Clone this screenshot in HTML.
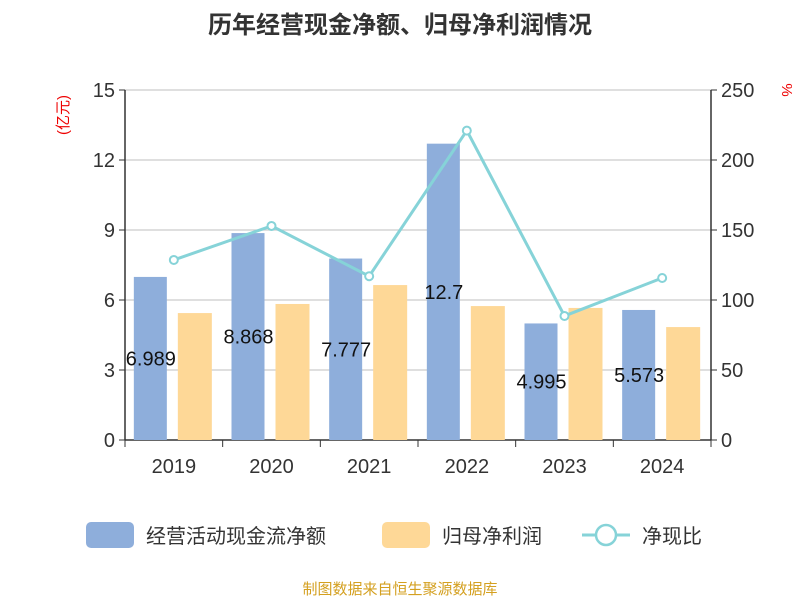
<!DOCTYPE html>
<html><head><meta charset="utf-8"><style>
body{margin:0;background:#fff;width:800px;height:600px;overflow:hidden;font-family:"Liberation Sans","Noto Sans CJK SC",sans-serif}
</style></head><body>
<svg id="c" width="800" height="600" xmlns="http://www.w3.org/2000/svg">
<text x="400" y="33" text-anchor="middle" font-size="24" font-weight="bold" fill="#333" font-family="Liberation Sans,Noto Sans CJK SC,sans-serif">历年经营现金净额、归母净利润情况</text>
<text transform="translate(68,115) rotate(-90)" text-anchor="middle" font-size="15" fill="#e00" font-family="Liberation Sans,Noto Sans CJK SC,sans-serif">(亿元)</text>
<text transform="translate(782,90) rotate(90)" text-anchor="middle" font-size="15" fill="#e00">%</text>
<g id="grid"></g><g id="bars"></g><g id="line"></g><g id="axes"></g>
<g font-family="Liberation Sans,Noto Sans CJK SC,sans-serif" font-size="20" fill="#333">
<rect x="86" y="522" width="48" height="26" rx="5" fill="#8eaedb"/>
<text x="146" y="543">经营活动现金流净额</text>
<rect x="382" y="522" width="48" height="26" rx="5" fill="#fed897"/>
<text x="442" y="543">归母净利润</text>
<line x1="582" y1="535" x2="630" y2="535" stroke="#86d3d8" stroke-width="3"/>
<circle cx="606" cy="535" r="10" fill="#fff" stroke="#86d3d8" stroke-width="2.5"/>
<text x="642" y="543">净现比</text>
</g>
<text x="400" y="594" text-anchor="middle" font-size="15" fill="#d4a020" font-family="Liberation Sans,Noto Sans CJK SC,sans-serif">制图数据来自恒生聚源数据库</text>
</svg>
<script>
const categories=["2019","2020","2021","2022","2023","2024"];
const cashFlow=[6.989,8.868,7.777,12.7,4.995,5.573];
const cashLabels=["6.989","8.868","7.777","12.7","4.995","5.573"];
const netProfit=[5.44,5.83,6.64,5.74,5.66,4.84];
const ratio=[128.6,152.9,117,221,88.6,115.7];
const leftTicks=[0,3,6,9,12,15];
const rightTicks=[0,50,100,150,200,250];
const NS="http://www.w3.org/2000/svg";
const L=125,R=711,T=90,B=440;
const yL=v=>B-(v/15)*(B-T);
const yR=v=>B-(v/250)*(B-T);
const bw=(R-L)/categories.length;
const cx=i=>L+bw*(i+0.5);
function mk(tag,attrs,parent,txt){const e=document.createElementNS(NS,tag);for(const k in attrs)e.setAttribute(k,attrs[k]);if(txt!==undefined)e.textContent=txt;document.getElementById(parent).appendChild(e);return e;}
leftTicks.forEach((t,i)=>{
 const g=mk('line',{x1:L,x2:R,y1:yL(t),y2:yL(t),stroke:i==0?'#333':'#ccc','stroke-width':i==0?1.5:1.2},'grid');
 
 
 const a=mk('text',{x:L-10,y:yL(t)+7,'text-anchor':'end','font-size':20,fill:'#333'},'axes',String(t));
 
 
 const k=mk('line',{x1:L-6,x2:L,y1:yL(t),y2:yL(t),stroke:'#333'},'axes');
 
 
});
rightTicks.forEach(t=>{
 const a=mk('text',{x:R+10,y:yR(t)+7,'font-size':20,fill:'#333'},'axes',String(t));
 
 
 const k=mk('line',{x1:R,x2:R+6,y1:yR(t),y2:yR(t),stroke:'#333'},'axes');
 
 
});
let ax=mk('line',{x1:L,x2:L,y1:T,y2:B,stroke:'#333','stroke-width':1.5},'axes');


ax=mk('line',{x1:R,x2:R,y1:T,y2:B,stroke:'#333','stroke-width':1.5},'axes');


for(let i=0;i<=categories.length;i++){
 const k=mk('line',{x1:L+bw*i,x2:L+bw*i,y1:B,y2:B+7,stroke:'#333'},'axes');
 
 
}
categories.forEach((c,i)=>{
 const t=mk('text',{x:cx(i),y:B+33,'text-anchor':'middle','font-size':20,fill:'#333'},'axes',c);
 
 
 const b=mk('rect',{x:cx(i)-40,y:yL(cashFlow[i]),width:33,height:B-yL(cashFlow[i]),fill:'#8eaedb'},'bars');
 
 
 const p=mk('rect',{x:cx(i)+4,y:yL(netProfit[i]),width:34,height:B-yL(netProfit[i]),fill:'#fed897'},'bars');
 
 
 const lb=mk('text',{x:cx(i)-23,y:(yL(cashFlow[i])+B)/2+7,'text-anchor':'middle','font-size':20,fill:'#111'},'line',cashLabels[i]);
 
 
});
const pl=mk('polyline',{points:ratio.map((v,i)=>cx(i)+','+yR(v)).join(' '),fill:'none',stroke:'#86d3d8','stroke-width':3},'line');


ratio.forEach((v,i)=>{
 const m=mk('circle',{cx:cx(i),cy:yR(v),r:4,fill:'#fff',stroke:'#86d3d8','stroke-width':2},'line');
 
 
});
</script>
</body></html>
